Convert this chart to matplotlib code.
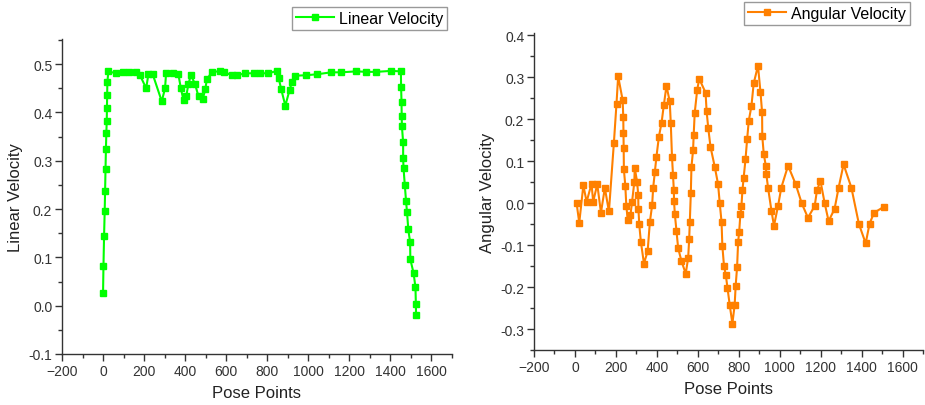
import matplotlib
matplotlib.use("Agg")
import matplotlib.pyplot as plt
from matplotlib.ticker import MultipleLocator, AutoMinorLocator, FormatStrFormatter

plt.rcParams['font.family'] = ['Liberation Sans', 'DejaVu Sans']

# Linear velocity along the pose sequence
linear_x = [0, 2, 5, 8, 10, 12, 14, 16, 18, 19, 20, 21, 26,
            63, 99, 124, 161, 180, 210, 221, 242, 286, 302, 307, 343, 367, 379, 392,
            405, 416, 428, 448, 465, 486, 498, 506, 530, 571, 587, 628, 652, 693, 733, 766,
            806, 847, 855, 868, 888, 909, 920, 936, 990, 1042, 1111, 1159, 1234, 1283,
            1332, 1403, 1451,
            1452, 1454, 1455, 1456, 1462, 1462, 1464, 1470, 1476, 1481, 1487, 1496,
            1497, 1513, 1522, 1524, 1525]
linear_v = [0.026, 0.082, 0.145, 0.196, 0.238, 0.283, 0.324, 0.357, 0.383, 0.41, 0.436, 0.463, 0.485,
            0.481, 0.483, 0.484, 0.483, 0.477, 0.45, 0.479, 0.479, 0.423, 0.45, 0.481, 0.481, 0.479, 0.45, 0.425,
            0.433, 0.459, 0.477, 0.459, 0.433, 0.428, 0.448, 0.469, 0.483, 0.486, 0.484, 0.477, 0.477, 0.481, 0.481, 0.481,
            0.481, 0.486, 0.472, 0.448, 0.414, 0.447, 0.462, 0.476, 0.477, 0.479, 0.483, 0.483, 0.485, 0.484,
            0.484, 0.486, 0.485,
            0.453, 0.422, 0.393, 0.371, 0.338, 0.305, 0.284, 0.25, 0.217, 0.193, 0.158, 0.131,
            0.096, 0.067, 0.038, 0.003, -0.02]

# Angular velocity along the pose sequence
angular_x = [8, 21, 41, 57, 81, 89, 109, 127, 146, 166, 190, 203, 211, 233, 236, 237, 238, 239,
             246, 251, 258, 271, 279, 290, 292, 304, 309, 310, 314, 322, 337, 355, 366, 377,
             382, 390, 398, 410, 423, 434, 447, 463, 468, 474, 479, 483, 484, 488, 496, 504,
             520, 541, 553, 558, 561, 566, 569, 577, 580, 585, 597, 607, 638, 643, 651, 662,
             683, 699, 707, 716, 720, 728, 737, 745, 756, 769, 780, 785, 792, 797, 802, 808,
             813, 818, 824, 833, 841, 849, 862, 873, 894, 906, 914, 915, 922, 932, 935, 943,
             960, 972, 992, 1008, 1041, 1078, 1108, 1138, 1171, 1182, 1199, 1220, 1239, 1268,
             1288, 1312, 1350, 1387, 1420, 1439, 1461, 1509]
angular_v = [0.0, -0.047, 0.042, 0.003, 0.046, 0.003, 0.045, -0.023, 0.036, -0.02, 0.142, 0.237, 0.302, 0.245, 0.205, 0.167, 0.131, 0.08,
             0.041, -0.007, -0.041, -0.029, 0.003, 0.05, 0.084, 0.049, 0.019, -0.013, -0.051, -0.092, -0.144, -0.115, -0.045, -0.005,
             0.036, 0.073, 0.11, 0.158, 0.191, 0.233, 0.279, 0.242, 0.191, 0.11, 0.066, 0.031, 0.004, -0.027, -0.067, -0.107,
             -0.138, -0.168, -0.131, -0.085, -0.045, 0.024, 0.086, 0.126, 0.163, 0.215, 0.269, 0.296, 0.263, 0.219, 0.179, 0.134,
             0.086, 0.045, 0.001, -0.045, -0.102, -0.15, -0.172, -0.202, -0.243, -0.287, -0.243, -0.197, -0.152, -0.092, -0.07, -0.027,
             -0.008, 0.03, 0.06, 0.104, 0.152, 0.196, 0.231, 0.285, 0.327, 0.265, 0.217, 0.159, 0.118, 0.089, 0.068, 0.037,
             -0.019, -0.054, -0.007, 0.037, 0.089, 0.045, -0.001, -0.035, -0.007, 0.03, 0.053, -0.001, -0.043, -0.014,
             0.037, 0.092, 0.037, -0.05, -0.096, -0.049, -0.023, -0.009]

W, H = 925, 406
fig = plt.figure(figsize=(W / 100, H / 100), dpi=100)


def px_axes(x0, x1, y0, y1):
    return fig.add_axes([x0 / W, 1 - y1 / H, (x1 - x0) / W, (y1 - y0) / H])


def style(ax, ylabel):
    for s in ('top', 'right'):
        ax.spines[s].set_visible(False)
    for s in ('left', 'bottom'):
        ax.spines[s].set_color('#333333')
        ax.spines[s].set_linewidth(1.0)
    ax.xaxis.set_major_locator(MultipleLocator(200))
    ax.xaxis.set_minor_locator(AutoMinorLocator(2))
    ax.yaxis.set_major_locator(MultipleLocator(0.1))
    ax.yaxis.set_minor_locator(AutoMinorLocator(2))
    ax.yaxis.set_major_formatter(FormatStrFormatter('%.1f'))
    ax.tick_params(which='major', direction='out', length=5, width=1.0,
                   color='#333333', labelsize=10, labelcolor='#333333', pad=2)
    ax.tick_params(which='minor', direction='out', length=3, width=1.0, color='#333333')
    ax.set_xlabel('Pose Points', fontsize=12, color='#222222', labelpad=5)
    ax.set_ylabel(ylabel, fontsize=12, color='#222222', labelpad=4)
    ax.set_xlim(-200, 1700)


ax1 = px_axes(62, 452, 40, 355)
ax1.plot(linear_x, linear_v, color='#00FF00', lw=1.5, marker='s', ms=4.4,
         label='Linear Velocity')
style(ax1, 'Linear Velocity')
ax1.set_ylim(-0.1, 0.552)

ax2 = px_axes(534, 923, 34, 351)
ax2.plot(angular_x, angular_v, color='#FF8000', lw=1.5, marker='s', ms=4.4,
         label='Angular Velocity')
style(ax2, 'Angular Velocity')
ax2.set_ylim(-0.35, 0.405)

for ax, (rx, ty) in ((ax1, (447, 8)), (ax2, (910, 3))):
    leg = ax.legend(loc='upper right', bbox_to_anchor=(rx / W, 1 - ty / H),
                    bbox_transform=fig.transFigure, borderaxespad=0,
                    fontsize=11.5, frameon=True, fancybox=False, framealpha=1,
                    handlelength=2.4, handletextpad=0.3, borderpad=0.25)
    leg.get_frame().set_edgecolor('#999999')
    leg.get_frame().set_linewidth(1.0)

fig.savefig('out.png', dpi=100)
